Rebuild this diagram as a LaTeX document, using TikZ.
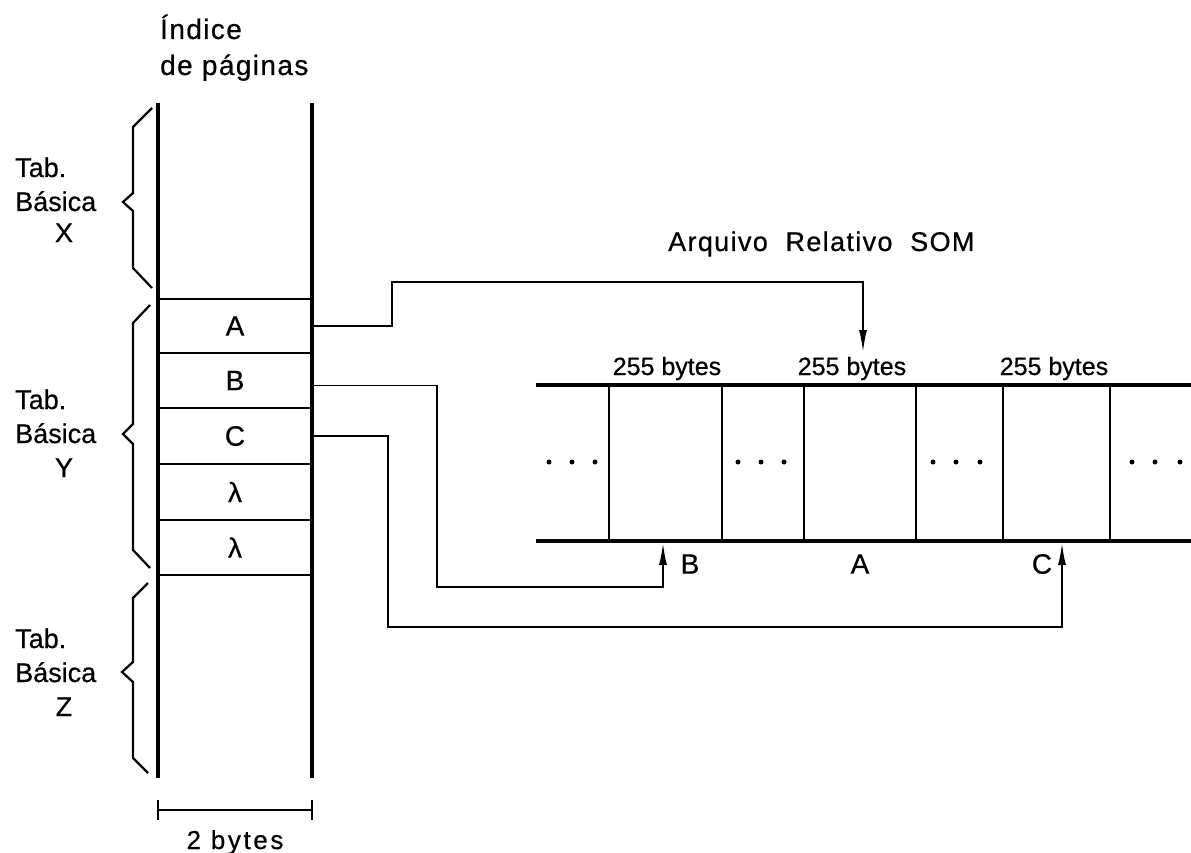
\documentclass[tikz,border=0pt]{standalone}
\usepackage{fontspec}
\setmainfont[FakeBold=0.6]{Liberation Sans}
\newfontfamily\spacedfont[LetterSpace=10,FakeBold=0.6]{Liberation Sans}
\newfontfamily\lightspaced[LetterSpace=5,FakeBold=0.6]{Liberation Sans}
\usetikzlibrary{arrows.meta,calc}
\begin{document}
\begin{tikzpicture}[x=1pt,y=-1pt,
  colline/.style={line width=3.5pt},
  sepline/.style={line width=2.4pt},
  tapeline/.style={line width=4pt},
  conn/.style={line width=1.8pt},
  arr/.style={conn,-{Latex[length=22pt,width=8pt]}},
  bracestyle/.style={line width=2.2pt,line join=miter},
  cell/.style={minimum width=154pt,minimum height=54pt,inner sep=0pt,font=\fontsize{28}{30}\selectfont},
  blk/.style={minimum height=156pt,inner sep=0pt},
  tablab/.style={inner sep=0pt,anchor=base west,font=\fontsize{27}{29}\selectfont},
  letlab/.style={inner sep=0pt,anchor=base,font=\fontsize{27}{29}\selectfont},
  bytelab/.style={inner sep=0pt,anchor=base,font=\fontsize{25}{27}\selectfont},
  ptrlab/.style={inner sep=0pt,font=\fontsize{28}{30}\selectfont},
  dot/.style={circle,fill,inner sep=0pt,minimum size=5pt}
]
\useasboundingbox (0,0) rectangle (1191,853);

% header
\node[inner sep=0pt,anchor=base west,font=\lightspaced\fontsize{28}{30}\selectfont] (hdr1) at (160,39) {Índice};
\node[inner sep=0pt,anchor=base west,font=\lightspaced\fontsize{28}{30}\selectfont] (hdr2) at (160,75) {de páginas};

% index column
\draw[colline] (158,103) -- (158,778);
\draw[colline] (312,103) -- (312,778);
\foreach \y in {299,353,408,464,520,575} \draw[sepline] (158,\y) -- (312,\y);
\node[cell] (cellA) at (235,326) {A};
\node[cell] (cellB) at (235,380.5) {B};
\node[cell] (cellC) at (235,436) {C};
\node[cell] (cellL1) at (235,492) {λ};
\node[cell] (cellL2) at (235,547.5) {λ};

% braces
\draw[bracestyle] (152,108) -- (133,127) -- (133,193) -- (123,202) -- (133,211) -- (133,268) -- (152,288);
\draw[bracestyle] (150,305) -- (133,323) -- (133,424) -- (123,434) -- (133,444) -- (133,550) -- (150,568);
\draw[bracestyle] (148,583) -- (133,598) -- (133,662) -- (122,672) -- (133,682) -- (133,758) -- (148,773);

% brace labels
\node[tablab] (tabX) at (15,177) {Tab.};
\node[tablab] (basX) at (15,211) {Básica};
\node[letlab] (letX) at (64,242) {X};
\node[tablab] (tabY) at (15,409) {Tab.};
\node[tablab] (basY) at (15,443) {Básica};
\node[letlab] (letY) at (64,477) {Y};
\node[tablab] (tabZ) at (15,648) {Tab.};
\node[tablab] (basZ) at (15,682) {Básica};
\node[letlab] (letZ) at (64,716) {Z};

% 2 bytes dimension
\coordinate (dimL) at (158,810);
\coordinate (dimR) at (312,810);
\draw[conn] (dimL) -- (dimR);
\draw[conn] ($(dimL)+(0,-10)$) -- ($(dimL)+(0,10)$);
\draw[conn] ($(dimR)+(0,-10)$) -- ($(dimR)+(0,10)$);
\node[inner sep=0pt,anchor=base,font=\spacedfont\fontsize{26}{28}\selectfont] (twob) at (235,849) {2 bytes};

% file title
\node[inner sep=0pt,anchor=base west,font=\lightspaced\fontsize{27}{29}\selectfont] (title) at (668,251) {Arquivo\ \ Relativo\ \ SOM};

% tape
\draw[tapeline] (536,385) -- (1191,385);
\draw[tapeline] (536,541) -- (1191,541);
\node[blk,minimum width=113pt] (blkB) at (665.5,463) {};
\node[blk,minimum width=112pt] (blkA) at (860,463) {};
\node[blk,minimum width=107pt] (blkC) at (1056.5,463) {};
\foreach \b in {blkB,blkA,blkC} {
  \draw[sepline] (\b.north west) -- (\b.south west);
  \draw[sepline] (\b.north east) -- (\b.south east);
}
\node[bytelab] (szB) at (667,375) {255 bytes};
\node[bytelab] (szA) at (852,375) {255 bytes};
\node[bytelab] (szC) at (1054,375) {255 bytes};

% dots
\foreach \x in {549,572,595,738,761,784,933,956,980,1132,1155,1180}
  \node[dot] at (\x,462) {};

% pointer labels
\node[ptrlab] (pB) at (690,564) {B};
\node[ptrlab] (pA) at (860,564) {A};
\node[ptrlab] (pC) at (1042,564) {C};

% connectors
\coordinate (aTip) at (863,352);
\coordinate (bIn) at (663,543);
\coordinate (cIn) at (1062,543);
\draw[arr] (cellA.east) -- (392,326) -- (392,282) -- (863,282) -- (aTip);
\draw[arr] ($(cellB.east)+(0,5)$) -- (437,385.5) -- (437,587) -- (663,587) -- (bIn);
\draw[arr] (cellC.east) -- (388,436) -- (388,627) -- (1062,627) -- (cIn);
\end{tikzpicture}
\end{document}
